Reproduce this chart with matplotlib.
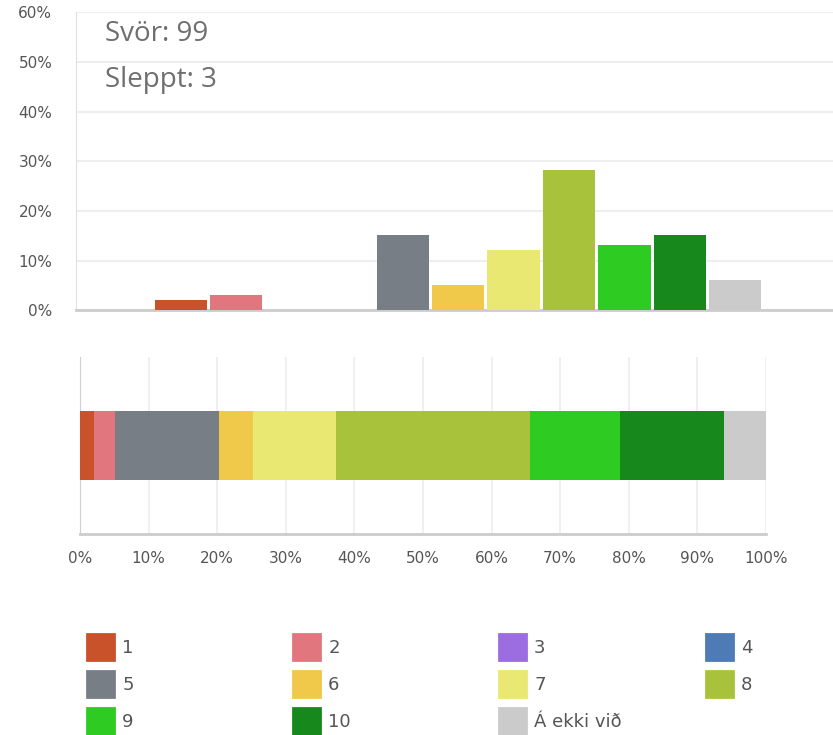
import matplotlib.pyplot as plt
import numpy as np
from matplotlib.patches import Patch

# survey answers (scale 1-10 plus "not applicable")
categories = ["1", "2", "3", "4", "5", "6", "7", "8", "9", "10", "Á ekki við"]
counts = [2, 3, 0, 0, 15, 5, 12, 28, 13, 15, 6]
total = 99
skipped = 3
colors = ["#c9522a", "#e2767f", "#9b6de0", "#4e7ab5", "#777e85", "#f0c84a",
          "#e8e873", "#a8c23c", "#2ecb23", "#17891c", "#cbcbcb"]
y_ticks = [0, 10, 20, 30, 40, 50, 60]
x_ticks = [0, 10, 20, 30, 40, 50, 60, 70, 80, 90, 100]

pct = np.array(counts) / total * 100
tick_color = "#555555"


def main():
    fig = plt.figure(figsize=(8.33, 7.35), dpi=100)

    # top: column chart
    ax = fig.add_axes([0.0912, 0.578, 0.9088, 0.4054])
    x = np.arange(len(categories))
    ax.bar(x, pct, width=0.94, color=colors, linewidth=0, zorder=3)
    ax.set_xlim(-1.89, 11.76)
    ax.set_ylim(0, 60)
    ax.set_yticks(y_ticks)
    ax.set_yticklabels([f"{t}%" for t in y_ticks])
    ax.set_xticks([])
    ax.grid(axis="y", color="#eeeeee", linewidth=1.5, zorder=0)
    ax.tick_params(axis="y", length=0, pad=17, labelsize=11, labelcolor=tick_color)
    for s in ["top", "right"]:
        ax.spines[s].set_visible(False)
    ax.spines["left"].set_color("#e0e0e0")
    ax.spines["bottom"].set_color("#cccccc")
    ax.spines["bottom"].set_linewidth(2)
    ax.text(0.038, 0.903, f"Svör: {total}", transform=ax.transAxes, va="baseline",
            fontsize=20, family="Open Sans", color="#6f6f6f")
    ax.text(0.038, 0.748, f"Sleppt: {skipped}", transform=ax.transAxes, va="baseline",
            fontsize=20, family="Open Sans", color="#6f6f6f")

    # bottom: stacked 100% bar
    ax2 = fig.add_axes([0.096, 0.2735, 0.8235, 0.2408])
    left = np.concatenate([[0], np.cumsum(pct)[:-1]])
    ax2.barh(0, pct, left=left, height=0.395, color=colors, linewidth=0, zorder=3)
    ax2.set_xlim(0, 100)
    ax2.set_ylim(-0.5, 0.5)
    ax2.set_yticks([])
    ax2.set_xticks(x_ticks)
    ax2.set_xticklabels([f"{t}%" for t in x_ticks])
    ax2.grid(axis="x", color="#eeeeee", linewidth=1.2, zorder=0)
    ax2.tick_params(axis="x", length=0, pad=12, labelsize=11, labelcolor=tick_color)
    for s in ["top", "right"]:
        ax2.spines[s].set_visible(False)
    ax2.spines["left"].set_color("#d0d0d0")
    ax2.spines["bottom"].set_color("#cccccc")
    ax2.spines["bottom"].set_linewidth(2)

    # legend: 4 columns, filled row by row
    handles = [Patch(facecolor=c, edgecolor=c, linewidth=2, joinstyle="round", label=l)
               for c, l in zip(colors, categories)]
    col_x = [0.1044, 0.3517, 0.599, 0.8475]
    for j, cx in enumerate(col_x):
        fig.legend(handles=handles[j::4], loc="upper left", bbox_to_anchor=(cx, 0.137),
                   frameon=False, fontsize=13, labelcolor=tick_color,
                   handlelength=1.5, handleheight=1.85, handletextpad=0.45,
                   labelspacing=0.6, borderpad=0, borderaxespad=0)

    fig.savefig("out.png", dpi=100)


if __name__ == "__main__":
    main()
